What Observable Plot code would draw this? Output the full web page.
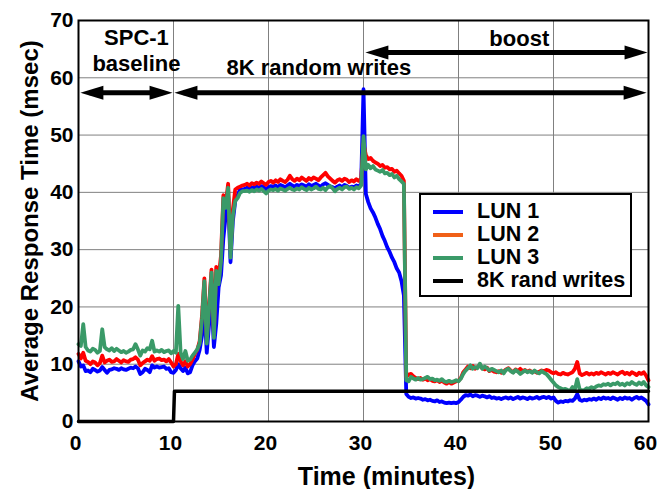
<!DOCTYPE html>
<html><head><meta charset="utf-8">
<script src="https://cdn.jsdelivr.net/npm/d3@7"></script>
<script src="https://cdn.jsdelivr.net/npm/@observablehq/plot@0.6"></script>
<style>
body{margin:0;background:#fff;}
#wrap{position:relative;width:666px;height:489px;font-family:"Liberation Sans",Arial,sans-serif;font-weight:bold;}
#wrap svg{position:absolute;left:0;top:0;}
#legend{position:absolute;left:419px;top:193px;width:209px;height:100px;border:2px solid #000;background:#fff;}
.row{position:absolute;left:0;height:23px;width:209px;}
.sw{position:absolute;left:12px;width:30px;height:4px;top:10px;}
.lb{position:absolute;left:56px;top:0;font-size:21.5px;line-height:23px;color:#000;white-space:nowrap;}
</style>
</head><body>
<div id="wrap"><div id="chart"></div><div id="legend"></div></div>
<script>
// time axis (minutes), one sample every 0.25 min
const minutes = d3.range(0, 241).map(i => i * 0.25);

const seriesNames = ["LUN 1", "LUN 2", "LUN 3", "8K rand writes"];

const lun1 = [
 10.5,9.6,9.8,8.8,8.9,8.6,9.2,9.0,8.7,8.9, 9.5,9.0,8.5,9.0,9.1,9.3,9.2,9.0,9.3,9.1,
 9.0,9.2,9.4,9.3,9.6,9.3,8.3,8.6,9.2,9.0, 8.6,9.8,9.4,9.6,9.4,9.5,9.6,9.2,9.3,8.6,
 8.5, 9.0,10.0,9.3,8.8,9.4,8.4,8.6,9.8,10.5,11.0,
 12.5,15,20,12.0,17,22,13.0,17,23.4,25.5,32,36,39.5,27.8,35,38.5,39.5,40.5,40.5,
 40.6,40.8,40.6,40.9,40.7,41.0,40.8,41.1,40.9,40.5, 40.9,41.1,41.0,41.2,40.9,41.3,41.1,40.9,41.2,41.5,
 41.2,41.0,41.3,41.1,41.4,41.2,41.0,41.4,41.1,41.3, 41.5,41.2,41.0,41.4,41.6,41.3,41.0,40.9,40.7,41.0,
 41.2,40.9,41.3,41.1,40.8,41.0,40.9,41.2,41.0,41.5,
 58,39.7,38.3,37.2,36.5,35.6,34.5,33.6,32.4,31.5,30.4,29.6,28.6,27.8,26.7,26.0,24.5,22,
 4.8,4.3,4.1,4.2,4.0,4.1,4.0,3.8,3.9,3.7, 3.8,3.6,3.5,3.7,3.4,3.5,3.3,3.2,3.3,3.2,
 3.3,3.2,3.4,3.8,4.3,4.6,4.5,4.7,4.4,4.6, 4.5,4.3,4.5,4.4,4.2,4.4,4.1,4.2,4.0,4.1,
 3.9,4.1,4.2,4.0,4.2,3.9,4.1,4.3,4.0,4.2, 4.1,3.9,4.2,4.0,4.1,4.3,4.0,4.2,4.3,4.1,
 4.3,4.0,4.2,3.6,3.3,3.5,3.4,3.6,3.5,3.7, 3.6,4.0,4.8,3.8,3.6,3.8,3.7,3.9,3.8,4.0,
 3.8,4.1,3.9,4.2,4.0,4.1,3.9,4.2,4.0,3.8, 4.1,3.9,4.2,4.0,4.1,3.8,4.1,4.3,4.0,4.2,
 3.9,3.6,3.0
];

const lun2 = [
 11.8,11.0,12.0,10.6,10.4,10.0,10.5,10.3,9.8,10.2, 11.5,10.3,10.6,10.8,10.4,10.5,10.9,10.6,10.3,10.7,
 10.5,10.4,10.8,10.9,11.2,10.8,9.8,10.2,10.5,10.8, 10.6,11.4,10.6,10.9,11.0,10.7,10.8,10.5,10.9,10.3,
 9.6, 10.0,11.8,10.5,9.8,10.5,9.6,10.0,10.8,11.8,12.5,
 14.0,18.5,25.0,15.0,20.5,26.5,15.5,27,25,29,39.5,38,41.5,30,37,40.5,40.8,41,41.2,
 41.3,41.5,41.2,41.6,41.4,41.7,41.5,41.9,41.6,41.3, 41.8,42.0,41.7,42.1,41.8,42.3,42.0,41.8,42.2,42.9,
 42.3,42.0,42.4,42.1,42.6,42.3,42.0,42.5,42.2,42.6, 42.4,42.1,42.6,43.0,43.4,42.8,42.4,42.0,41.7,42.1,
 42.3,42.0,42.4,42.2,41.8,42.1,41.9,42.3,42.0,42.4,
 48.5,46.5,45.8,46.0,45.5,45.2,45.0,44.6,44.8,44.3,44.4,44.0,44.1,43.6,43.8,43.3,42.9,42.0,
 7.8,8.2,8.3,7.9,7.6,7.4,7.6,7.3,7.5,7.2, 7.4,7.1,7.0,7.2,6.9,7.1,6.8,6.6,6.9,6.6,
 6.8,7.0,7.1,7.6,8.6,9.1,9.6,9.3,9.7,9.2, 9.5,9.8,9.3,9.1,9.4,8.8,9.0,8.7,8.6,8.8,
 8.5,8.7,9.1,9.3,8.9,8.6,9.1,8.8,9.2,8.8, 9.0,8.7,8.9,8.6,8.8,8.5,8.7,8.9,8.8,9.0,
 8.9,8.6,8.4,8.6,8.3,8.2,8.5,8.3,8.2,8.4, 8.6,9.2,10.4,8.4,8.1,8.3,8.5,8.2,8.4,8.2,
 8.5,8.3,8.6,8.4,8.2,8.5,8.3,8.6,8.4,8.2, 8.5,8.7,8.3,8.5,8.2,8.6,8.4,8.1,8.5,8.3,
 8.6,8.0,7.2
];

const lun3 = [
 13.5,13.2,17.0,13.0,12.4,12.2,12.7,12.5,12.0,12.3, 16.1,13.0,12.6,12.4,12.8,12.3,12.7,12.4,12.1,12.3,
 12.0,12.2,12.5,12.6,13.5,12.6,11.5,12.4,12.2,12.8, 12.6,14.1,12.2,12.4,12.2,12.5,12.1,12.3,12.4,11.9,
 12.3, 12.0,20.2,12.0,10.9,12.3,10.6,10.8,11.5,12.0,12.6,
 13.6,18,24.5,13.6,20,26,14.6,26.3,24,28,39,37.3,40.8,28.6,36,38.5,39,39.9,40.2,
 40.2,40.3,40.1,40.4,40.2,40.5,40.3,40.6,40.2,39.8, 40.3,40.5,40.4,40.6,40.3,40.7,40.5,40.3,40.6,40.8,
 40.5,40.4,40.7,40.5,40.9,40.6,40.4,40.8,40.5,40.7, 41.0,40.6,40.5,40.8,40.4,40.9,41.1,40.7,40.2,40.6,
 40.8,40.5,40.9,41.0,40.6,40.8,40.5,40.9,40.7,41.2,
 49.8,44.0,44.8,44.2,44.6,44.0,43.8,43.6,43.9,43.3,43.4,43.0,43.2,42.6,42.9,42.3,41.9,41.5,
 7.2,7.0,7.8,7.5,7.3,7.6,7.3,7.4,7.6,7.8, 7.4,7.5,7.2,7.3,7.1,7.4,7.0,6.9,7.1,6.9,
 7.0,7.2,7.0,7.5,8.3,8.9,9.3,9.8,9.2,9.5, 9.3,10.1,9.2,9.6,9.3,8.9,9.2,9.0,8.8,8.6,
 8.9,8.4,9.0,9.2,8.8,8.5,9.0,8.7,8.3,8.6, 8.9,8.6,8.8,8.5,8.9,8.6,8.4,8.8,8.5,8.3,
 7.8,7.3,6.8,6.3,6.0,5.8,5.6,5.7,5.5,5.4, 6.0,5.6,7.4,5.6,5.4,5.5,5.8,5.7,6.0,5.8,
 6.1,6.3,6.2,6.5,6.4,6.6,6.3,6.6,6.5,6.8, 6.4,6.6,6.3,6.7,6.5,6.9,6.6,6.4,6.8,6.5,
 6.9,6.3,6.0
];

// 8K random writes load (step)
const writesTime = [0, 10, 10.1, 60];
const writesValue = [0, 0, 5.3, 5.3];

// phase arrows (double-headed)
const arrowFrom = [0.2, 10.1, 30.2];
const arrowTo = [9.9, 59.8, 59.9];
const arrowLevel = [57.4, 57.4, 64.4];

// phase annotations
const noteText = ["SPC-1", "baseline", "8K random writes", "boost"];
const noteX = [6.1, 6.1, 25.3, 46.4];
const noteY = [66.9, 62.4, 61.7, 66.7];

const xTicks = [0, 10, 20, 30, 40, 50, 60];
const yTicks = [0, 10, 20, 30, 40, 50, 60, 70];

const lineColors = ["#0000ff", "#ff0000", "#3a9a68", "#000000"];
const legendColors = ["#0000ff", "#f06018", "#3a9a68", "#000000"];

const rows = (vals) => minutes.map((t, i) => ({t, v: vals[i]}));
const writesRows = writesTime.map((t, i) => ({t, v: writesValue[i]}));
const arrowRows = arrowFrom.map((f, i) => ({from: f, to: arrowTo[i], y: arrowLevel[i]}));
const noteRows = noteText.map((s, i) => ({s, x: noteX[i], y: noteY[i]}));

const triRight = {draw(ctx) { ctx.moveTo(0, 0); ctx.lineTo(-23, -7); ctx.lineTo(-23, 7); ctx.closePath(); }};
const triLeft = {draw(ctx) { ctx.moveTo(0, 0); ctx.lineTo(23, -7); ctx.lineTo(23, 7); ctx.closePath(); }};

const chart = Plot.plot({
  width: 666, height: 489,
  marginLeft: 78, marginRight: 18, marginTop: 20, marginBottom: 68,
  x: {domain: [0, 60]},
  y: {domain: [0, 70]},
  style: {fontFamily: "'Liberation Sans', Arial, sans-serif", fontWeight: "bold", color: "#000", background: "#fff"},
  marks: [
    Plot.gridX(xTicks, {stroke: "#808080", strokeOpacity: 1, strokeWidth: 1}),
    Plot.gridY(yTicks, {stroke: "#808080", strokeOpacity: 1, strokeWidth: 1}),
    Plot.line(rows(lun1), {x: "t", y: "v", stroke: lineColors[0], strokeWidth: 3.8}),
    Plot.line(rows(lun2), {x: "t", y: "v", stroke: lineColors[1], strokeWidth: 3.8}),
    Plot.line(rows(lun3), {x: "t", y: "v", stroke: lineColors[2], strokeWidth: 3.8}),
    Plot.line(writesRows, {x: "t", y: "v", stroke: lineColors[3], strokeWidth: 3.5}),
    Plot.ruleY(arrowRows, {y: "y", x1: d => d.from + 1, x2: d => d.to - 1, stroke: "#000", strokeWidth: 5}),
    Plot.dot(arrowRows, {x: "from", y: "y", symbol: triLeft, fill: "#000", stroke: "none"}),
    Plot.dot(arrowRows, {x: "to", y: "y", symbol: triRight, fill: "#000", stroke: "none"}),
    Plot.text(noteRows, {x: "x", y: "y", text: "s", fontSize: 22, fontWeight: "bold", fill: "#000"}),
    Plot.frame({stroke: "#000", strokeWidth: 2}),
    Plot.axisX(xTicks, {tickSize: 0, tickPadding: 14, fontSize: 21, fontWeight: "bold", label: null, dx: -3}),
    Plot.axisY(yTicks, {tickSize: 0, tickPadding: 5, fontSize: 21, fontWeight: "bold", label: null}),
    Plot.text(["Time (minutes)"], {frameAnchor: "bottom", dy: 55, dx: 23, text: d => d, fontSize: 25, fontWeight: "bold", lineAnchor: "middle", textAnchor: "middle"}),
    Plot.text(["Average Response Time (msec)"], {frameAnchor: "left", dx: -48, rotate: -90, text: d => d, fontSize: 24, fontWeight: "bold", lineAnchor: "middle", textAnchor: "middle"})
  ]
});
document.getElementById("chart").appendChild(chart);

const legend = d3.select("#legend");
seriesNames.forEach((name, i) => {
  const r = legend.append("div").attr("class", "row").style("top", (5 + i * 23) + "px");
  r.append("div").attr("class", "sw").style("background", legendColors[i]);
  r.append("div").attr("class", "lb").text(name);
});
</script>
</body></html>
